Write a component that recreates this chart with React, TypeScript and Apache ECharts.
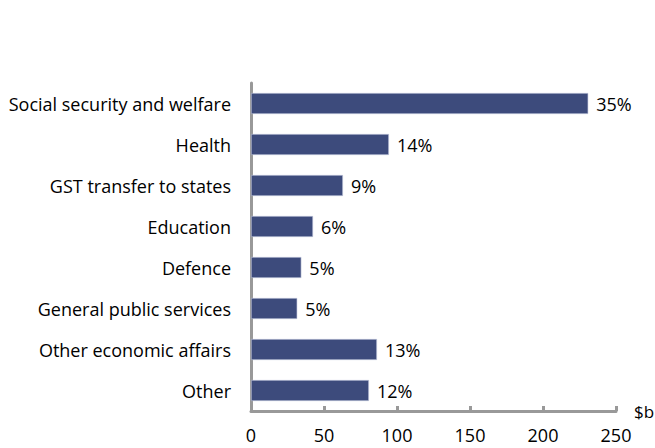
import React, { useEffect, useRef } from "react";
import * as echarts from "echarts";

const categories = [
  "Social security and welfare",
  "Health",
  "GST transfer to states",
  "Education",
  "Defence",
  "General public services",
  "Other economic affairs",
  "Other",
];
const values = [231, 94.5, 63, 42.5, 34.5, 31.7, 86.3, 80.8];
const shares = ["35%", "14%", "9%", "6%", "5%", "5%", "13%", "12%"];
const xTicks = [0, 50, 100, 150, 200, 250];

const FONT = "Open Sans";

export default function App() {
  const ref = useRef<HTMLDivElement>(null);
  useEffect(() => {
    if (!ref.current) return;
    const chart = echarts.init(ref.current, undefined, { renderer: "svg" });
    chart.setOption({
      animation: false,
      grid: { left: 251, right: 39, top: 83, bottom: 37, containLabel: false, outerBoundsMode: "none" },
      xAxis: {
        type: "value",
        min: xTicks[0],
        max: xTicks[xTicks.length - 1],
        interval: 50,
        name: "$b",
        nameLocation: "end",
        nameGap: 18,
        nameTextStyle: { fontFamily: FONT, fontSize: 17, color: "#000", verticalAlign: "middle", align: "left" },
        axisLine: { show: true, lineStyle: { color: "#999", width: 3 } },
        axisTick: { show: true, inside: true, length: 5, lineStyle: { color: "#999", width: 3 } },
        axisLabel: { fontFamily: FONT, fontSize: 18, color: "#000", margin: 15 },
        splitLine: { show: false },
      },
      yAxis: {
        type: "category",
        data: categories,
        inverse: true,
        axisLine: { show: true, lineStyle: { color: "#999", width: 3 } },
        axisTick: { show: false },
        axisLabel: { fontFamily: FONT, fontSize: 18, color: "#000", margin: 20 },
      },
      series: [
        {
          type: "bar",
          data: values,
          barWidth: 21,
          itemStyle: { color: "#3d4b7c", borderColor: "#c8cde0", borderWidth: 0.6 },
          label: {
            show: true,
            position: "right",
            distance: 8,
            fontFamily: FONT,
            fontSize: 18,
            color: "#000",
            formatter: (p: any) => shares[p.dataIndex],
          },
        },
      ],
    });
    return () => chart.dispose();
  }, []);
  return <div ref={ref} style={{ width: 655, height: 448, position: "absolute", left: 0, top: 0 }} />;
}
